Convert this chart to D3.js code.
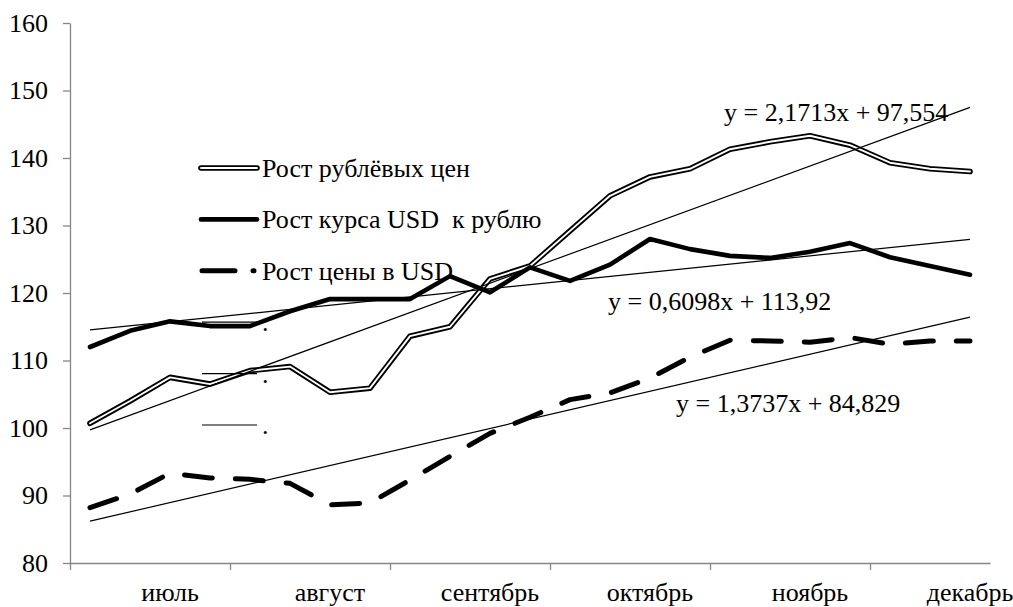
<!DOCTYPE html>
<html><head><meta charset="utf-8">
<script src="https://cdn.jsdelivr.net/npm/d3@7/dist/d3.min.js"></script>
<style>
body{margin:0;background:#fff}
text{font-family:"Liberation Serif","Times New Roman",serif;fill:#000}
</style>
</head><body>
<svg id="c" width="1013" height="607"></svg>
<script>
// ---- data ----
const weeks = [1,2,3,4,5,6,7,8,9,10,11,12,13,14,15,16,17,18,19,20,21,22,23];
const monthLabels = ["июль","август","сентябрь","октябрь","ноябрь","декабрь"];
const monthWeeks = [3,7,11,15,19,23];
const monthTickWeeks = [1,5,9,13,17,21];
const yTicks = [80,90,100,110,120,130,140,150,160];
const seriesNames = ["Рост рублёвых цен","Рост курса USD  к рублю","Рост цены в USD"];
const rubPrices = [100.7,104.0,107.5,106.5,108.5,109.1,105.3,105.9,113.6,115.0,122.1,124.0,129.2,134.4,137.2,138.4,141.3,142.4,143.3,141.9,139.3,138.4,138.0];
const usdRate   = [112.0,114.4,115.8,115.1,115.1,117.3,119.1,119.1,119.1,122.5,120.1,123.8,121.8,124.2,128.0,126.5,125.5,125.2,126.1,127.4,125.3,124.0,122.7];
const usdPrices = [88.2,90.2,93.3,92.6,92.4,91.8,88.6,88.9,92.3,95.8,99.2,101.6,104.2,105.2,107.4,110.5,113.0,112.9,112.7,113.4,112.4,112.9,112.9];
const trendSlopes = [2.1713,0.6098,1.3737];
const trendIntercepts = [97.554,113.92,84.829];
const trendLabels = ["y = 2,1713x + 97,554","y = 0,6098x + 113,92","y = 1,3737x + 84,829"];

(function(){
const svg = d3.select("#c");
const pL = 70, pR = 990, pT = 23, pB = 563;
const FS = 26;
const x = d3.scaleBand().domain(weeks).range([pL,pR]).padding(0);
const cx = w => x(w) + x.bandwidth()/2;
const xEdge = d3.scaleLinear().domain([1,24]).range([pL,pR]);
const y = d3.scaleLinear().domain([80,160]).range([pB,pT]);
const axisColor = "#868686";

// y axis
const ya = svg.append("g").attr("transform",`translate(${pL},0)`)
  .call(d3.axisLeft(y).tickValues(yTicks).tickSize(7).tickSizeOuter(0).tickPadding(15).tickFormat(d3.format("d")));
ya.select(".domain").attr("stroke",axisColor).attr("stroke-width",1.3);
ya.selectAll(".tick line").attr("stroke",axisColor).attr("stroke-width",1.3);
ya.selectAll(".tick text").style("font-family","Liberation Serif").style("font-size",FS+"px").attr("fill","#000");

// x axis
const xa = svg.append("g").attr("transform",`translate(0,${pB})`)
  .call(d3.axisBottom(xEdge).tickValues(monthTickWeeks).tickSize(7).tickSizeOuter(0).tickFormat(""));
xa.select(".domain").attr("stroke",axisColor).attr("stroke-width",1.3);
xa.selectAll(".tick line").attr("stroke",axisColor).attr("stroke-width",1.3);

svg.append("g").selectAll("text").data(monthWeeks).join("text")
  .attr("x", w => cx(w)).attr("y", 601).attr("text-anchor","middle")
  .style("font-size",FS+"px").text((w,i) => monthLabels[i]);

// series
const line = d3.line().x((d,i) => cx(weeks[i])).y(d => y(d));
const g = svg.append("g");
g.append("path").attr("d",line(rubPrices)).attr("fill","none").attr("stroke","#000")
  .attr("stroke-width",5.6).attr("stroke-linejoin","round").attr("stroke-linecap","round");
g.append("path").attr("d",line(rubPrices)).attr("fill","none").attr("stroke","#fff")
  .attr("stroke-width",1.9).attr("stroke-linejoin","round").attr("stroke-linecap","round");
g.append("path").attr("d",line(usdRate)).attr("fill","none").attr("stroke","#000")
  .attr("stroke-width",4.6).attr("stroke-linejoin","round").attr("stroke-linecap","round");
g.append("path").attr("d",line(usdPrices)).attr("fill","none").attr("stroke","#000")
  .attr("stroke-width",5).attr("stroke-linejoin","round").attr("stroke-linecap","round")
  .attr("stroke-dasharray","28,23");

// trend lines
const tg = svg.append("g");
trendSlopes.forEach((k,i) => {
  const b = trendIntercepts[i];
  const first = weeks[0], last = weeks[weeks.length-1];
  tg.append("line")
    .attr("x1",cx(first)).attr("y1",y(k*first+b))
    .attr("x2",cx(last)).attr("y2",y(k*last+b))
    .attr("stroke","#000").attr("stroke-width",1.2);
});
const labelPos = [[724,121],[608,310],[676,412]];
trendLabels.forEach((t,i) => {
  svg.append("text").attr("x",labelPos[i][0]).attr("y",labelPos[i][1])
    .style("font-size",FS+"px").style("white-space","pre").text(t);
});

// legend
const lg = svg.append("g");
const ly0 = 168, lstep = 51.4, lx1 = 201, lx2 = 257, ltx = 262;
lg.append("line").attr("x1",lx1).attr("x2",lx2).attr("y1",ly0).attr("y2",ly0)
  .attr("stroke","#000").attr("stroke-width",5.6).attr("stroke-linecap","round");
lg.append("line").attr("x1",lx1).attr("x2",lx2).attr("y1",ly0).attr("y2",ly0)
  .attr("stroke","#fff").attr("stroke-width",1.9).attr("stroke-linecap","round");
lg.append("line").attr("x1",lx1).attr("x2",lx2).attr("y1",ly0+lstep).attr("y2",ly0+lstep)
  .attr("stroke","#000").attr("stroke-width",4.6).attr("stroke-linecap","round");
lg.append("line").attr("x1",lx1+1).attr("x2",254).attr("y1",ly0+2*lstep).attr("y2",ly0+2*lstep)
  .attr("stroke","#000").attr("stroke-width",5).attr("stroke-linecap","round").attr("stroke-dasharray","33,18");
seriesNames.forEach((n,i) => {
  lg.append("text").attr("x",ltx).attr("y",ly0+i*lstep+9)
    .style("font-size",FS+"px").style("white-space","pre").text(n);
});
trendSlopes.forEach((k,i) => {
  const yy = ly0 + (3+i)*lstep;
  lg.append("line").attr("x1",lx1+1).attr("x2",lx2).attr("y1",yy).attr("y2",yy)
    .attr("stroke","#000").attr("stroke-width",1.2);
  lg.append("text").attr("x",ltx).attr("y",yy+9).style("font-size",FS+"px").text(".");
});
})();
</script>
</body></html>
